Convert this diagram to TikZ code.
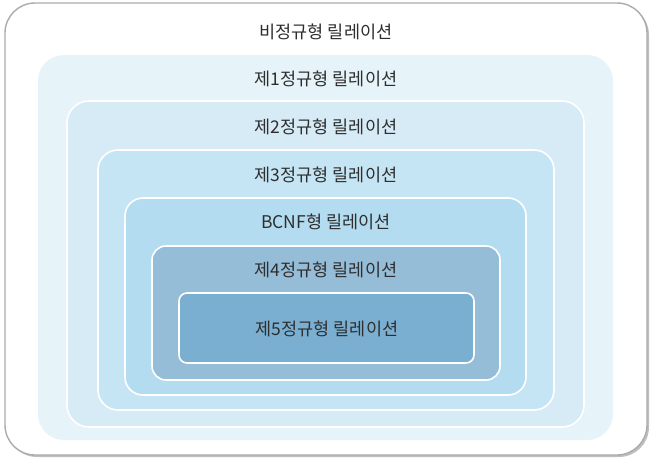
\documentclass[tikz,border=0pt]{standalone}
\usepackage{fontspec}
\newfontfamily\kr{Noto Sans CJK KR}
\usepackage{tikz}
\usepackage{xcolor}
\definecolor{frame}{HTML}{ABABAB}
\definecolor{lvlA}{HTML}{E6F3F9}
\definecolor{lvlB}{HTML}{D6EBF6}
\definecolor{lvlC}{HTML}{C6E5F4}
\definecolor{lvlD}{HTML}{B3DCF0}
\definecolor{lvlE}{HTML}{95BDD8}
\definecolor{lvlF}{HTML}{7BAFD1}
\definecolor{txt}{HTML}{2E2E2E}

\begin{document}
\begin{tikzpicture}[x=1pt, y=-1pt,
  lvl/.style={draw=white, line width=1.6pt},
  lbl/.style={text=txt, font=\kr\fontsize{17.5}{20}\selectfont, inner sep=0pt}]
  \useasboundingbox (0,0) rectangle (653,459);

  % Boxes
  \fill[black!25, rounded corners=30pt] (7,5) rectangle (649,457);
  \draw[frame, fill=white, line width=1.4pt, rounded corners=30pt] (5,3) rectangle (647,455);
  \fill[lvlA, rounded corners=26pt] (38,55) rectangle (613,440);
  \draw[lvl, fill=lvlB, rounded corners=22pt] (67,101) rectangle (584,427);
  \draw[lvl, fill=lvlC, rounded corners=20pt] (98,150) rectangle (554,410);
  \draw[lvl, fill=lvlD, rounded corners=18pt] (125,198) rectangle (526,395);
  \draw[lvl, fill=lvlE, rounded corners=14pt] (152,246) rectangle (500,380);
  \draw[lvl, fill=lvlF, rounded corners=8pt] (179,293) rectangle (474,363);

  % Labels
  \node[lbl] (nf0) at (326,32) {비정규형 릴레이션};
  \node[lbl] (nf1) at (326,79) {제1정규형 릴레이션};
  \node[lbl] (nf2) at (326,127) {제2정규형 릴레이션};
  \node[lbl] (nf3) at (326,175) {제3정규형 릴레이션};
  \node[lbl] (bcnf) at (326,222) {BCNF형 릴레이션};
  \node[lbl] (nf4) at (326,270) {제4정규형 릴레이션};
  \node[lbl] (nf5) at (327,329) {제5정규형 릴레이션};
\end{tikzpicture}
\end{document}
